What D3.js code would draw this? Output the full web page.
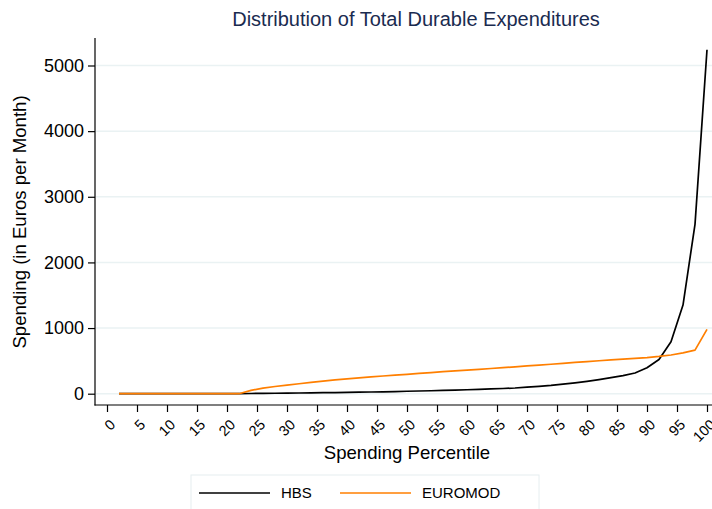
<!DOCTYPE html>
<html>
<head>
<meta charset="utf-8">
<script src="https://cdn.jsdelivr.net/npm/d3@7"></script>
<style>
  html, body { margin: 0; padding: 0; background: #fff; }
  svg { display: block; font-family: "Liberation Sans", Arial, sans-serif; }
</style>
</head>
<body>
<svg id="chart" width="712" height="509"></svg>
<script>
const percentiles = d3.range(2, 101, 2);
const hbsValues = [0,0,0,0,0,0,0,0,0,0,0,
  3,5,7,9,11,13,15,17,20,23,26,29,33,37,41,45,50,55,60,66,72,79,87,
  100,112,126,145,165,188,215,245,275,315,395,520,790,1350,2580,5240];
const euromodValues = [0,0,0,0,0,0,0,0,0,0,0,
  50,85,110,132,152,172,192,210,226,242,257,270,283,295,309,322,335,347,358,
  371,384,397,410,423,436,449,462,476,490,502,514,526,539,551,568,590,622,663,980];
const seriesNames = ["HBS", "EUROMOD"];
const seriesColors = ["#000000", "#ff7f00"];
const xTicks = d3.range(0, 101, 5);
const yTicks = [0, 1000, 2000, 3000, 4000, 5000];

const svg = d3.select("#chart");
const x = d3.scaleLinear().domain([0, 100]).range([107, 707]);
const y = d3.scaleLinear().domain([0, 5000]).range([393.7, 65.5]);
const axisX = 95, axisY = 405;

// gridlines
svg.append("g").selectAll("line").data(yTicks).join("line")
  .attr("x1", axisX + 1).attr("x2", 712)
  .attr("y1", d => y(d)).attr("y2", d => y(d))
  .attr("stroke", "#eaf2f3").attr("stroke-width", 1.5);

// y axis
const yAxis = svg.append("g").attr("transform", `translate(${axisX},0)`)
  .call(d3.axisLeft(y).tickValues(yTicks).tickSize(7).tickPadding(4).tickFormat(d3.format("d")));
yAxis.select(".domain").remove();
yAxis.selectAll(".tick line").attr("stroke", "#000").attr("stroke-width", 1.2);
yAxis.selectAll(".tick text").attr("font-size", 18).attr("fill", "#000")
  .attr("font-family", "Liberation Sans, Arial, sans-serif");
svg.append("line").attr("x1", axisX).attr("x2", axisX).attr("y1", 38).attr("y2", axisY + 0.5)
  .attr("stroke", "#000").attr("stroke-width", 1.2);

// x axis
const xAxis = svg.append("g").attr("transform", `translate(0,${axisY})`)
  .call(d3.axisBottom(x).tickValues(xTicks).tickSize(7).tickFormat(d3.format("d")));
xAxis.select(".domain").remove();
xAxis.selectAll(".tick line").attr("stroke", "#000").attr("stroke-width", 1.2);
xAxis.selectAll(".tick text")
  .attr("font-size", 14.5).attr("fill", "#000")
  .attr("font-family", "Liberation Sans, Arial, sans-serif")
  .attr("text-anchor", "end").attr("dy", "0.35em")
  .attr("transform", "translate(5,17) rotate(-45)").attr("y", 0).attr("x", 0);
svg.append("line").attr("x1", axisX - 0.5).attr("x2", 712).attr("y1", axisY).attr("y2", axisY)
  .attr("stroke", "#000").attr("stroke-width", 1.2);

// lines
const line = d3.line().x((d, i) => x(percentiles[i])).y(d => y(d));
[hbsValues, euromodValues].forEach((vals, k) => {
  svg.append("path").datum(vals).attr("d", line)
    .attr("fill", "none").attr("stroke", seriesColors[k]).attr("stroke-width", 1.7)
    .attr("stroke-linejoin", "round");
});

// title
svg.append("text").attr("x", 416).attr("y", 26).attr("text-anchor", "middle")
  .attr("font-size", 20).attr("fill", "#1a2b50").text("Distribution of Total Durable Expenditures");

// axis titles
svg.append("text").attr("x", 407).attr("y", 459).attr("text-anchor", "middle")
  .attr("font-size", 18.6).attr("fill", "#000").text("Spending Percentile");
svg.append("text").attr("transform", "translate(26,222) rotate(-90)").attr("text-anchor", "middle")
  .attr("font-size", 18.6).attr("fill", "#000").text("Spending (in Euros per Month)");

// legend
const lg = svg.append("g");
lg.append("rect").attr("x", 191).attr("y", 475).attr("width", 348).attr("height", 45)
  .attr("fill", "#fff").attr("stroke", "#e6eef0").attr("stroke-width", 1);
const legendX = [199, 340];
seriesNames.forEach((name, k) => {
  lg.append("line").attr("x1", legendX[k]).attr("x2", legendX[k] + 71)
    .attr("y1", 493).attr("y2", 493).attr("stroke", seriesColors[k]).attr("stroke-width", 1.7);
  lg.append("text").attr("x", legendX[k] + 82).attr("y", 498).attr("font-size", 15)
    .attr("fill", "#000").text(name);
});
</script>
</body>
</html>
